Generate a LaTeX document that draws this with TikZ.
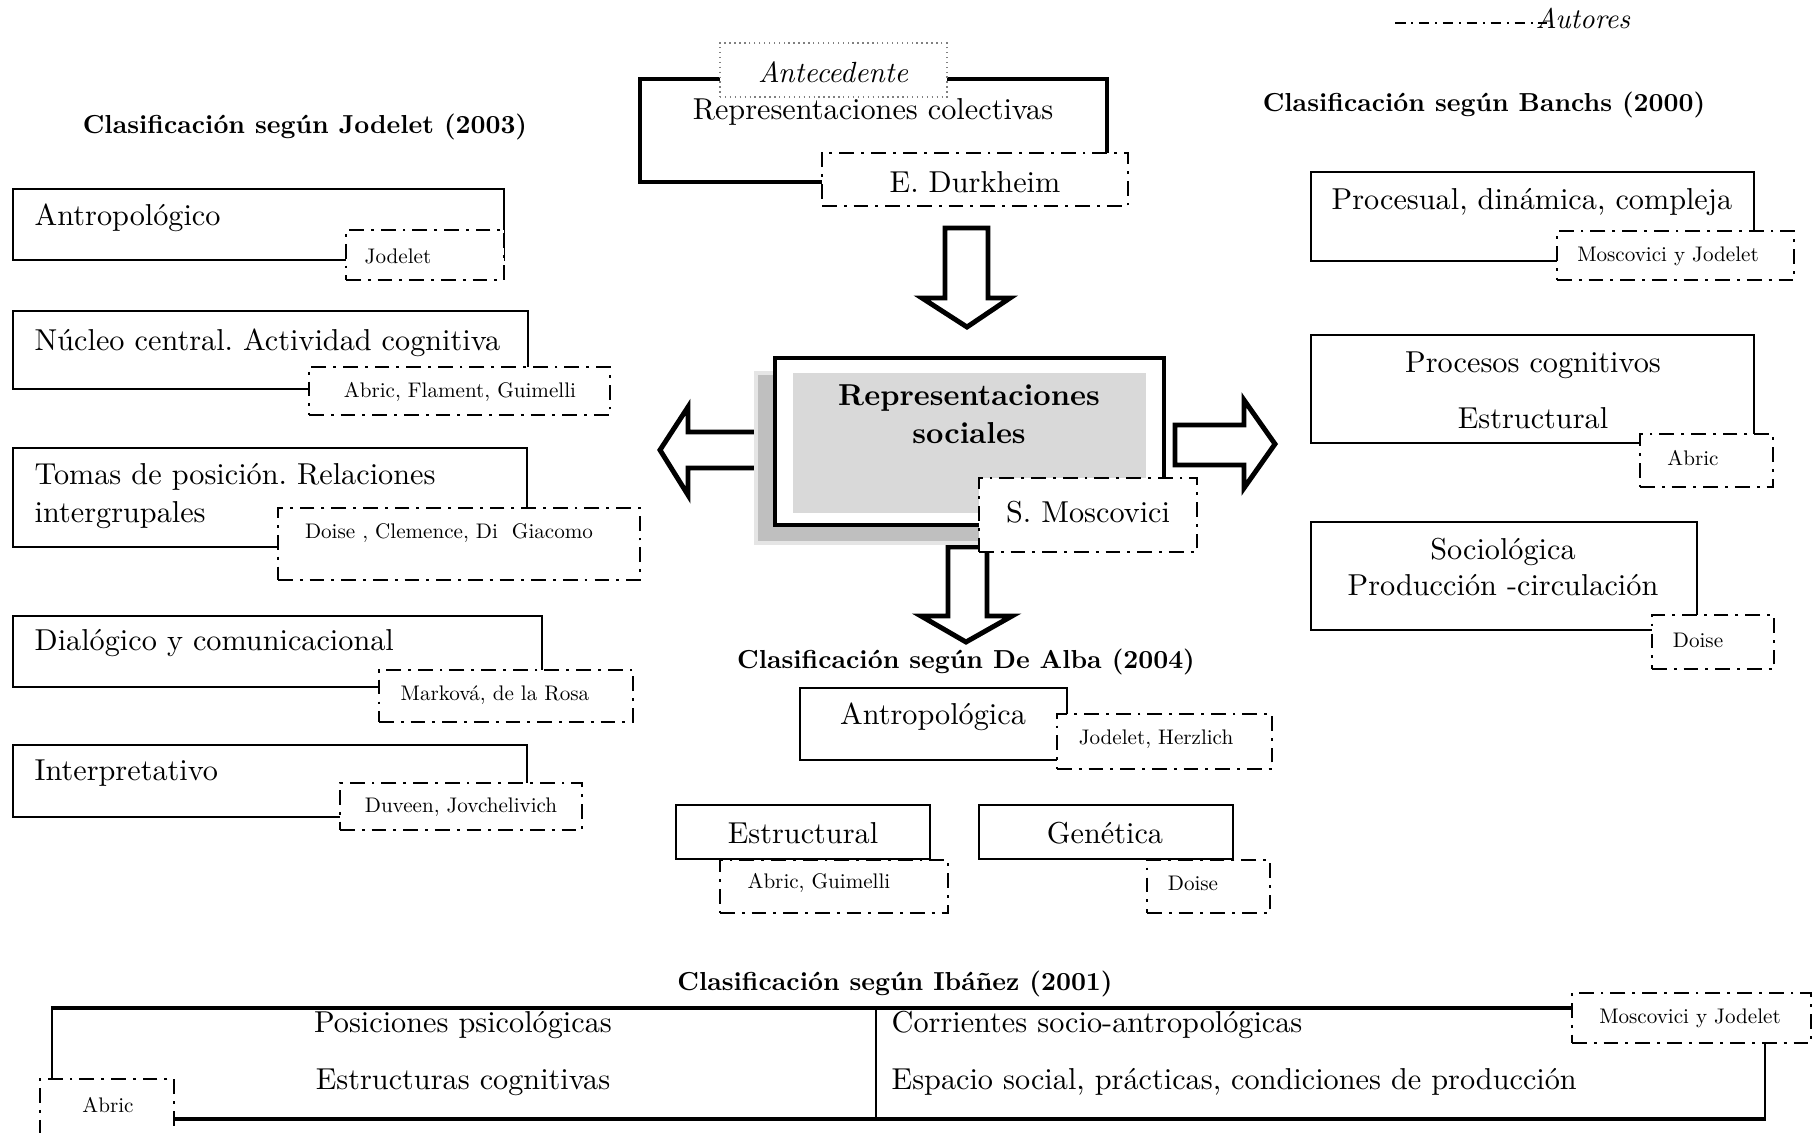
\documentclass[tikz,border=0pt]{standalone}
\usepackage{fontspec}
\setmainfont{lmroman10-regular}[Extension=.otf,BoldFont=lmroman10-bold,
  ItalicFont=lmroman10-italic,BoldItalicFont=lmroman10-bolditalic]
\usepackage{tikz}
\usetikzlibrary{fit,calc}

\tikzset{
  clsbox/.style={draw,line width=0.8pt,fill=white,inner sep=0pt},
  autbox/.style={draw,line width=0.6pt,fill=white,inner sep=0pt,
                 dash pattern=on 4.2pt off 2pt on 0.8pt off 2pt},
  bodytxt/.style={font=\fontsize{8.6}{10.8}\selectfont,inner sep=0pt},
  auttxt/.style={font=\fontsize{6}{7.2}\selectfont,inner sep=0pt},
  titletxt/.style={font=\fontsize{7.4}{9}\selectfont\bfseries,inner sep=0pt},
  blockarrow/.style={draw,line width=1.4pt,fill=white,line join=miter},
}

\begin{document}
\frenchspacing
\begin{tikzpicture}[x=0.01cm,y=-0.01cm]
\path[use as bounding box,fill=white] (0,0) rectangle (1814,1132);
\clip (0,0) rectangle (1814,1132);

% legend
\coordinate (autL) at (1395,23);
\coordinate (autR) at (1547,23);
\draw[line width=0.5pt,dash pattern=on 3pt off 1.6pt on 0.6pt off 1.6pt] (autL) -- (autR);
\node[font=\fontsize{8.1}{9.6}\selectfont\itshape,inner sep=0pt,anchor=west] (autores) at (1535,18) {Autores};

% titles
\node[titletxt] (tjod) at (305,127) {Clasificación según Jodelet (2003)};
\node[titletxt] (tban) at (1484,105) {Clasificación según Banchs (2000)};
\node[titletxt] (talb) at (966,662) {Clasificación según De Alba (2004)};
\node[titletxt] (tiba) at (895,984) {Clasificación según Ibáñez (2001)};

% antecedente
\node[draw,line width=1.15pt,fit={(640,79) (1107,182)},inner sep=0pt] (colect) {};
\node[draw=gray,densely dotted,line width=0.4pt,fill=white,fit={(720,43) (947,97)},inner sep=0pt] (antec) {};
\node[font=\fontsize{8.3}{10}\selectfont\itshape,inner sep=0pt] (antectxt) at (833,72) {Antecedente};
\node[bodytxt] (colecttxt) at (873,112) {Representaciones colectivas};
\node[autbox,line width=0.7pt,fit={(822,153) (1128,206)}] (durk) {};
\node[bodytxt] (durktxt) at (975,182) {E. Durkheim};

% block arrows
\draw[blockarrow] (945,228) -- (988,228) -- (988,298) -- (1010,298) -- (967,327)
  -- (922,298) -- (945,298) -- cycle;
\draw[blockarrow] (762,432) -- (688,432) -- (688,407) -- (660,450) -- (688,495)
  -- (688,468) -- (762,468) -- cycle;
\draw[blockarrow] (1175,425) -- (1244,425) -- (1244,400) -- (1275,444) -- (1244,488)
  -- (1244,465) -- (1175,465) -- cycle;
\draw[blockarrow] (948,547) -- (987,547) -- (987,616) -- (1012,616) -- (966,642)
  -- (921,616) -- (948,616) -- cycle;

% representaciones sociales
\node[fill=gray!50,draw=gray!20,line width=1pt,fit={(756,373) (1145,543)},inner sep=0pt] (shadow) {};
\node[draw,line width=1.4pt,fill=white,fit={(775,358) (1164,525)},inner sep=0pt] (rsoc) {};
\node[fill=gray!30,fit={(793,373) (1146,513)},inner sep=0pt] (rsocfill) {};
\node[bodytxt,font=\fontsize{8.6}{10.8}\selectfont\bfseries,align=center] (rsoctxt) at (969,414) {Representaciones\\sociales};
\node[autbox,line width=0.75pt,fit={(979,478) (1197,552)}] (mosc) {};
\node[bodytxt] (mosctxt) at (1088,512) {S. Moscovici};

% Jodelet (2003)
\node[clsbox,fit={(13,189) (504,260)}] (antro) {};
\node[bodytxt,anchor=west] (antrotxt) at (34,218) {Antropológico};
\node[autbox,fit={(346,230) (504,280)}] (jodel) {};
\node[auttxt] (jodeltxt) at (398,256) {Jodelet};

\node[clsbox,fit={(13,311) (528,389)}] (nucleo) {};
\node[bodytxt,anchor=west] (nucleotxt) at (34,343) {Núcleo central. Actividad cognitiva};
\node[autbox,fit={(309,367) (610,415)}] (abric1) {};
\node[auttxt] (abric1txt) at (460,392) {Abric, Flament, Guimelli};

\node[clsbox,fit={(13,448) (527,547)}] (tomas) {};
\node[bodytxt,anchor=west,align=left] (tomastxt) at (34,496) {Tomas de posición. Relaciones\\intergrupales};
\node[autbox,fit={(278,508) (640,580)}] (doise1) {};
\node[auttxt] (doise1txt) at (449,533) {Doise , Clemence, Di\ \ Giacomo};

\node[clsbox,fit={(13,616) (542,687)}] (dialog) {};
\node[bodytxt,anchor=west] (dialogtxt) at (34,643) {Dialógico y comunicacional};
\node[autbox,fit={(379,670) (633,722)}] (markova) {};
\node[auttxt] (markovatxt) at (495,695) {Marková, de la Rosa};

\node[clsbox,fit={(13,745) (527,817)}] (interp) {};
\node[bodytxt,anchor=west] (interptxt) at (34,773) {Interpretativo};
\node[autbox,fit={(340,783) (582,830)}] (duveen) {};
\node[auttxt] (duveentxt) at (461,807) {Duveen, Jovchelivich};

% Banchs (2000)
\node[clsbox,fit={(1311,172) (1754,261)}] (proces) {};
\node[bodytxt] (procestxt) at (1532,202) {Procesual, dinámica, compleja};
\node[autbox,fit={(1557,231) (1794,280)}] (moscjod1) {};
\node[auttxt] (moscjod1txt) at (1668,256) {Moscovici y Jodelet};

\node[clsbox,fit={(1311,335) (1754,443)}] (cognit) {};
\node[bodytxt] (cognittxt) at (1533,365) {Procesos cognitivos};
\node[bodytxt] (estrtxt) at (1533,418) {Estructural};
\node[autbox,fit={(1640,434) (1773,487)}] (abric2) {};
\node[auttxt] (abric2txt) at (1693,458) {Abric};

\node[clsbox,fit={(1311,522) (1697,630)}] (sociol) {};
\node[bodytxt,font=\fontsize{8.6}{10}\selectfont,align=center] (socioltxt) at (1503,567) {Sociológica\\Producción -circulación};
\node[autbox,fit={(1652,615) (1774,669)}] (doise2) {};
\node[auttxt] (doise2txt) at (1698,640) {Doise};

% De Alba (2004)
\node[clsbox,fit={(800,688) (1067,760)}] (antalba) {};
\node[bodytxt] (antalbatxt) at (933,717) {Antropológica};
\node[autbox,fit={(1057,714) (1272,769)}] (jodherz) {};
\node[auttxt] (jodherztxt) at (1156,739) {Jodelet, Herzlich};

\node[clsbox,fit={(676,805) (930,859)}] (estruct) {};
\node[bodytxt] (estructtxt) at (803,833) {Estructural};
\node[autbox,fit={(720,860) (948,913)}] (abrguim) {};
\node[auttxt] (abrguimtxt) at (819,883) {Abric, Guimelli};

\node[clsbox,fit={(979,805) (1233,859)}] (genet) {};
\node[bodytxt] (genettxt) at (1105,833) {Genética};
\node[autbox,fit={(1147,860) (1270,913)}] (doise3) {};
\node[auttxt] (doise3txt) at (1193,883) {Doise};

% Ibanez (2001)
\node[draw,line width=0.6pt,fit={(52,1009) (1765,1118)},inner sep=0pt] (ibanez) {};
\draw[line width=1pt] (ibanez.north west) -- (ibanez.north east);
\draw[line width=1pt] (ibanez.south west) -- (ibanez.south east);
\coordinate (divtop) at (876,1009);
\coordinate (divbot) at (876,1118);
\draw[line width=0.45pt] (divtop) -- (divbot);
\node[bodytxt] (psictxt) at (463,1025) {Posiciones psicológicas};
\node[bodytxt] (cogtxt) at (463,1082) {Estructuras cognitivas};
\node[bodytxt,anchor=west] (corrtxt) at (891,1025) {Corrientes socio-antropológicas};
\node[bodytxt,anchor=west] (espatxt) at (891,1082) {Espacio social, prácticas, condiciones de producción};
\node[autbox,fit={(40,1079) (174,1150)}] (abric3) {};
\node[auttxt] (abric3txt) at (108,1105) {Abric};
\node[autbox,fit={(1572,993) (1811,1043)}] (moscjod2) {};
\node[auttxt] (moscjod2txt) at (1690,1018) {Moscovici y Jodelet};
\end{tikzpicture}
\end{document}
